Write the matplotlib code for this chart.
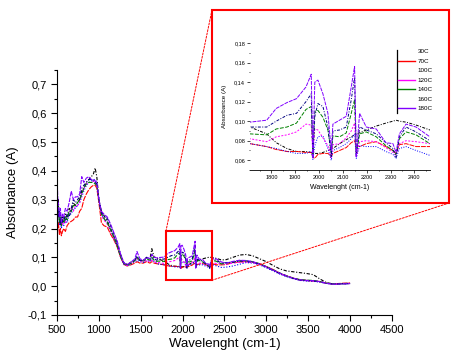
import numpy as np
import matplotlib
matplotlib.use('Agg')
import matplotlib.pyplot as plt
from matplotlib.ticker import MultipleLocator, FuncFormatter
from matplotlib.patches import Rectangle, ConnectionPatch
from matplotlib.lines import Line2D

plt.rcParams['font.family'] = ['Liberation Sans', 'DejaVu Sans']

# wavenumber grid (cm-1)
wn = [500, 508, 516, 528, 540, 552, 565, 580, 600, 620, 645, 670, 695, 720, 745, 770, 795, 820, 850, 880,
      910, 935, 955, 975, 1000, 1030, 1060, 1100, 1140, 1180, 1220, 1260, 1300, 1340, 1390, 1430, 1455, 1490,
      1530, 1570, 1610, 1632, 1660, 1690,
      1710, 1780, 1820, 1865, 1905, 1945, 1967, 1974, 1982, 1995, 2016, 2037, 2051, 2058, 2086, 2114, 2135,
      2149, 2156, 2170, 2198, 2240, 2280, 2310, 2323, 2337, 2365, 2407, 2465,
      2520, 2600, 2680, 2760, 2840, 2920, 3000, 3080, 3160, 3240, 3320, 3400, 3480, 3560, 3640, 3720, 3800,
      3900, 4000]

a30 = [0.33, 0.26, 0.30, 0.22, 0.25, 0.21, 0.24, 0.22, 0.25, 0.24, 0.27, 0.26, 0.29, 0.28, 0.29, 0.30, 0.33, 0.34, 0.36, 0.37,
       0.38, 0.39, 0.41, 0.38, 0.30, 0.26, 0.245, 0.225, 0.20, 0.17, 0.14, 0.105, 0.08, 0.075, 0.08, 0.09, 0.095, 0.09,
       0.085, 0.10, 0.095, 0.13, 0.10, 0.10,
       0.094, 0.087, 0.078, 0.072, 0.069, 0.069, 0.068, 0.067, 0.067, 0.067, 0.068, 0.07, 0.071, 0.072, 0.077, 0.081, 0.084,
       0.086, 0.087, 0.088, 0.091, 0.095, 0.098, 0.10, 0.101, 0.10, 0.099, 0.096, 0.091,
       0.092, 0.10, 0.108, 0.11, 0.105, 0.095, 0.085, 0.072, 0.06, 0.053, 0.05, 0.047, 0.044, 0.04, 0.025, 0.012, 0.008,
       0.008, 0.009]
a70 = [0.25, 0.20, 0.22, 0.18, 0.20, 0.175, 0.19, 0.20, 0.19, 0.21, 0.22, 0.225, 0.23, 0.24, 0.24, 0.26, 0.27, 0.30, 0.32, 0.335,
       0.345, 0.35, 0.35, 0.34, 0.29, 0.22, 0.21, 0.205, 0.18, 0.16, 0.135, 0.10, 0.075, 0.07, 0.075, 0.08, 0.085, 0.08,
       0.08, 0.085, 0.08, 0.085, 0.08, 0.078,
       0.077, 0.074, 0.071, 0.069, 0.069, 0.068, 0.068, 0.063, 0.062, 0.066, 0.067, 0.067, 0.064, 0.067, 0.07, 0.073, 0.078,
       0.08, 0.075, 0.074, 0.077, 0.079, 0.074, 0.07, 0.067, 0.076, 0.077, 0.074, 0.074,
       0.075, 0.082, 0.084, 0.085, 0.083, 0.078, 0.068, 0.058, 0.045, 0.036, 0.028, 0.022, 0.02, 0.018, 0.016, 0.01, 0.008,
       0.01, 0.011]
a100 = [0.31, 0.24, 0.27, 0.21, 0.23, 0.20, 0.22, 0.21, 0.23, 0.22, 0.25, 0.25, 0.27, 0.27, 0.28, 0.29, 0.31, 0.33, 0.35, 0.36,
        0.365, 0.37, 0.37, 0.36, 0.30, 0.25, 0.235, 0.22, 0.195, 0.165, 0.14, 0.10, 0.075, 0.07, 0.078, 0.085, 0.09, 0.085,
        0.082, 0.09, 0.085, 0.095, 0.085, 0.08,
        0.077, 0.074, 0.072, 0.069, 0.067, 0.067, 0.069, 0.061, 0.075, 0.084, 0.085, 0.072, 0.06, 0.07, 0.073, 0.077, 0.082,
        0.087, 0.062, 0.075, 0.074, 0.074, 0.069, 0.066, 0.062, 0.072, 0.074, 0.07, 0.065,
        0.066, 0.07, 0.076, 0.082, 0.08, 0.074, 0.064, 0.053, 0.042, 0.033, 0.026, 0.02, 0.018, 0.017, 0.014, 0.009, 0.007,
        0.008, 0.009]
a120 = [0.30, 0.27, 0.25, 0.23, 0.21, 0.23, 0.21, 0.23, 0.22, 0.24, 0.25, 0.27, 0.26, 0.28, 0.28, 0.29, 0.32, 0.34, 0.355, 0.36,
        0.36, 0.365, 0.36, 0.35, 0.30, 0.245, 0.23, 0.215, 0.19, 0.165, 0.14, 0.10, 0.075, 0.072, 0.08, 0.088, 0.10, 0.088,
        0.085, 0.09, 0.085, 0.09, 0.085, 0.082,
        0.082, 0.079, 0.084, 0.086, 0.089, 0.097, 0.096, 0.065, 0.092, 0.091, 0.083, 0.075, 0.063, 0.076, 0.077, 0.083, 0.09,
        0.098, 0.063, 0.079, 0.08, 0.079, 0.073, 0.068, 0.065, 0.077, 0.08, 0.079, 0.077,
        0.076, 0.08, 0.083, 0.084, 0.082, 0.076, 0.067, 0.056, 0.044, 0.035, 0.027, 0.021, 0.019, 0.018, 0.015, 0.01, 0.007,
        0.009, 0.01]
a140 = [0.29, 0.25, 0.28, 0.22, 0.24, 0.21, 0.23, 0.22, 0.24, 0.23, 0.26, 0.26, 0.28, 0.28, 0.29, 0.30, 0.32, 0.34, 0.355, 0.36,
        0.36, 0.36, 0.355, 0.35, 0.30, 0.25, 0.235, 0.22, 0.195, 0.17, 0.14, 0.10, 0.077, 0.073, 0.08, 0.09, 0.10, 0.09,
        0.088, 0.095, 0.09, 0.10, 0.09, 0.086,
        0.087, 0.086, 0.092, 0.094, 0.098, 0.112, 0.115, 0.066, 0.11, 0.111, 0.104, 0.091, 0.068, 0.085, 0.084, 0.088, 0.108,
        0.122, 0.066, 0.087, 0.089, 0.084, 0.075, 0.07, 0.066, 0.082, 0.089, 0.086, 0.077,
        0.08, 0.084, 0.088, 0.088, 0.085, 0.078, 0.068, 0.057, 0.046, 0.036, 0.028, 0.023, 0.021, 0.02, 0.016, 0.01, 0.008,
        0.009, 0.01]
a160 = [0.32, 0.29, 0.24, 0.26, 0.21, 0.24, 0.22, 0.24, 0.23, 0.25, 0.24, 0.27, 0.30, 0.29, 0.30, 0.31, 0.34, 0.35, 0.36, 0.37,
        0.37, 0.365, 0.36, 0.355, 0.30, 0.255, 0.245, 0.235, 0.21, 0.18, 0.15, 0.11, 0.08, 0.075, 0.085, 0.09, 0.105, 0.09,
        0.09, 0.10, 0.095, 0.11, 0.095, 0.09,
        0.094, 0.094, 0.10, 0.106, 0.108, 0.12, 0.128, 0.063, 0.105, 0.118, 0.115, 0.094, 0.063, 0.09, 0.091, 0.094, 0.122,
        0.145, 0.064, 0.094, 0.091, 0.087, 0.078, 0.072, 0.063, 0.084, 0.094, 0.089, 0.08,
        0.082, 0.083, 0.087, 0.087, 0.083, 0.076, 0.066, 0.055, 0.044, 0.035, 0.027, 0.021, 0.019, 0.018, 0.015, 0.01, 0.007,
        0.008, 0.009]
a180 = [0.39, 0.31, 0.28, 0.24, 0.27, 0.22, 0.25, 0.24, 0.27, 0.26, 0.29, 0.33, 0.30, 0.31, 0.31, 0.32, 0.38, 0.36, 0.375, 0.38,
        0.37, 0.37, 0.365, 0.36, 0.30, 0.26, 0.25, 0.24, 0.215, 0.185, 0.155, 0.11, 0.08, 0.075, 0.085, 0.095, 0.12, 0.095,
        0.09, 0.10, 0.095, 0.11, 0.10, 0.098,
        0.099, 0.101, 0.113, 0.119, 0.123, 0.135, 0.148, 0.062, 0.14, 0.142, 0.128, 0.108, 0.07, 0.097, 0.101, 0.105, 0.135,
        0.156, 0.063, 0.108, 0.094, 0.092, 0.078, 0.077, 0.068, 0.087, 0.097, 0.094, 0.084,
        0.08, 0.086, 0.09, 0.089, 0.085, 0.077, 0.067, 0.056, 0.045, 0.036, 0.028, 0.022, 0.02, 0.019, 0.016, 0.01, 0.007,
        0.008, 0.009]

labels = ['30C', '70C', '100C', '120C', '140C', '160C', '180C']
colors = ['#000000', '#ff0000', '#0000ff', '#ff00ff', '#008000', '#000080', '#8000ff']
styles = [(0, (3, 1.5, 1, 1.5)), (0, (5, 1)), (0, (1, 1.5)), (0, (2, 1.5)), (0, (4, 1.5)), (0, (3, 1.5, 1, 1.5)), (0, (4, 1))]
series = [a30, a70, a100, a120, a140, a160, a180]

comma = lambda d: FuncFormatter(lambda v, p: f"{v:.{d}f}".replace('.', ','))

fig = plt.figure(figsize=(4.6, 3.55), dpi=100)
ax = fig.add_axes([0.124, 0.1127, 0.728, 0.690])
for y, c, ls in zip(series, colors, styles):
    ax.plot(wn, y, color=c, ls=ls, lw=0.8)
ax.set_xlim(500, 4500)
ax.set_ylim(-0.1, 0.75)
ax.xaxis.set_major_locator(MultipleLocator(500))
ax.xaxis.set_minor_locator(MultipleLocator(250))
ax.yaxis.set_major_locator(MultipleLocator(0.1))
ax.yaxis.set_minor_locator(MultipleLocator(0.05))
ax.yaxis.set_major_formatter(comma(1))
for s in ['top', 'right']:
    ax.spines[s].set_visible(False)
ax.tick_params(which='major', direction='out', length=4, width=0.8, labelsize=8)
ax.tick_params(which='minor', direction='out', length=2, width=0.8)
ax.set_xlabel('Wavelenght (cm-1)', fontsize=9.5, labelpad=2)
ax.set_ylabel('Absorbance (A)', fontsize=9.5, labelpad=6)

# zoom box on main plot
ax.add_patch(Rectangle((1800, 0.02), 545, 0.17, fill=False, ec='#ff0000', lw=1.5, zorder=5))

# inset
ins = fig.add_axes([0.5435, 0.521, 0.391, 0.358])
for y, c, ls in zip(series, colors, styles):
    ins.plot(wn, y, color=c, ls=ls, lw=0.7)
ins.set_xlim(1710, 2465)
ins.set_ylim(0.05, 0.18)
ins.xaxis.set_major_locator(MultipleLocator(100))
ins.xaxis.set_minor_locator(MultipleLocator(50))
ins.yaxis.set_major_locator(MultipleLocator(0.02))
ins.yaxis.set_minor_locator(MultipleLocator(0.01))
ins.yaxis.set_major_formatter(comma(2))
for s in ['top', 'right', 'left']:
    ins.spines[s].set_visible(False)
ins.spines['bottom'].set_linewidth(0.6)
ins.tick_params(which='major', direction='out', length=2, width=0.5, labelsize=4, pad=1.5)
ins.tick_params(which='minor', direction='out', length=1, width=0.5)
ins.set_xlabel('Wavelenght (cm-1)', fontsize=5, labelpad=3)
ins.set_ylabel('Absorbance (A)', fontsize=4.5, labelpad=5)

handles = []
for c, lab in zip(colors, labels):
    vis = c in ('#ff0000', '#ff00ff', '#008000', '#8000ff')
    handles.append(Line2D([], [], color=c, lw=1.0 if vis else 0))
fig.legend(handles, labels, loc='upper left', bbox_to_anchor=(398 / 460, 1 - 49 / 355), frameon=False,
           fontsize=4.5, handlelength=2.7, handletextpad=0.4, labelspacing=0.65, borderpad=0, borderaxespad=0)
fig.add_artist(Line2D([397 / 460, 397 / 460], [1 - 50 / 355, 1 - 113 / 355], color='black', lw=0.9))

# inset frame and connectors
fig.add_artist(Rectangle((212 / 460, 1 - 203 / 355), 237 / 460, 193 / 355, transform=fig.transFigure,
                         fill=False, ec='#ff0000', lw=1.5))
for pa, pb in [((1800, 0.19), (212 / 460, 1 - 10 / 355)), ((2345, 0.02), (449 / 460, 1 - 203 / 355))]:
    fig.add_artist(ConnectionPatch(xyA=pa, coordsA=ax.transData, xyB=pb, coordsB=fig.transFigure,
                                   color='#ff0000', ls=(0, (2, 1.5)), lw=0.7))

fig.savefig('out.png', dpi=100)
